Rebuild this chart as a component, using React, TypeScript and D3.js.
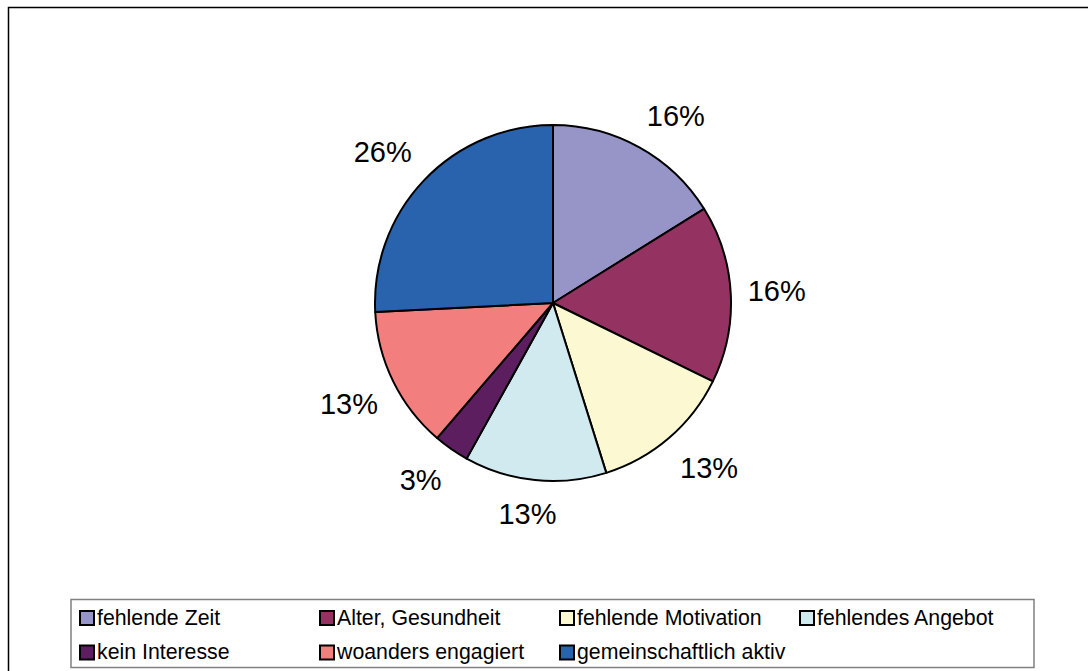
import React from "react";
import * as d3 from "d3";

const categories = [
  "fehlende Zeit",
  "Alter, Gesundheit",
  "fehlende Motivation",
  "fehlendes Angebot",
  "kein Interesse",
  "woanders engagiert",
  "gemeinschaftlich aktiv",
];
const values = [5, 5, 4, 4, 1, 4, 8];
const colors = ["#9795C8", "#943262", "#FBF8D2", "#D0EAF0", "#5D1E60", "#F27F7E", "#2A63AD"];

const W = 1088;
const H = 671;
const cx = 553;
const cy = 303;
const r = 178;
const FONT = "'Liberation Sans', Arial, Helvetica, sans-serif";

export default function App() {
  const total = d3.sum(values);
  const pie = d3.pie<number>().sort(null).value((d) => d);
  const arcs = pie(values);
  const arcGen = d3.arc<d3.PieArcDatum<number>>().innerRadius(0).outerRadius(r);
  const fmt = (v: number) => `${Math.round((v / total) * 100)}%`;
  const labelFs = 29;
  const anchorR = 195;

  const legendX = d3.scaleLinear().domain([0, 1]).range([79, 319]);
  const legendY = d3.scaleLinear().domain([0, 1]).range([618, 652.5]);

  return (
    <svg
      width={W}
      height={H}
      style={{ position: "absolute", left: 0, top: 0, background: "#fff" }}
      fontFamily={FONT}
    >
      <rect x={8.5} y={7.5} width={1200} height={800} fill="#fff" stroke="#000" strokeWidth={1.5} />
      <g transform={`translate(${cx},${cy})`}>
        {arcs.map((a, i) => (
          <path key={i} d={arcGen(a) || ""} fill={colors[i]} stroke="#000" strokeWidth={2} strokeLinejoin="round" />
        ))}
        {arcs.map((a, i) => {
          const mid = (a.startAngle + a.endAngle) / 2;
          const ux = Math.sin(mid);
          const uy = -Math.cos(mid);
          const txt = fmt(a.data);
          const w = labelFs * (0.556 * (txt.length - 1) + 0.889);
          const h = 34;
          const clamp = (v: number) => Math.max(-1, Math.min(1, v));
          const x = ux * anchorR + clamp(2 * ux) * (w / 2);
          const y = uy * anchorR + clamp(2 * uy) * (h / 2);
          return (
            <text key={i} x={x} y={y} textAnchor="middle" dominantBaseline="central" fontSize={labelFs} fill="#000">
              {txt}
            </text>
          );
        })}
      </g>
      <rect x={71} y={599.5} width={963} height={68} fill="#fff" stroke="#808080" strokeWidth={1.5} />
      {categories.map((c, i) => {
        const col = i % 4;
        const row = Math.floor(i / 4);
        const x = legendX(col);
        const y = legendY(row);
        return (
          <g key={c}>
            <rect x={x + 1} y={y - 7} width={14} height={14} fill={colors[i]} stroke="#000" strokeWidth={2} />
            <text x={x + 18} y={y + 6.7} fontSize={21.3} fill="#000">
              {c}
            </text>
          </g>
        );
      })}
    </svg>
  );
}
